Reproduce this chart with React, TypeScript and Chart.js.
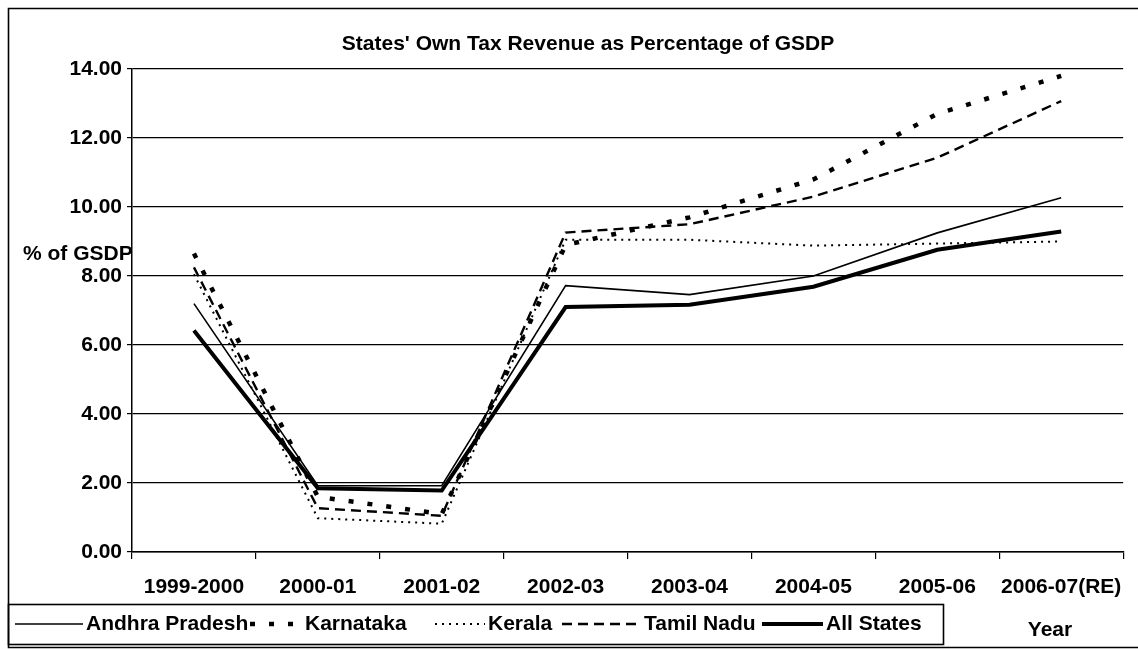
import React, { useEffect, useRef } from 'react';
import { Chart, registerables } from 'chart.js';

Chart.register(...registerables);

// Financial years on the category axis
const years = ['1999-2000', '2000-01', '2001-02', '2002-03', '2003-04', '2004-05', '2005-06', '2006-07(RE)'];

// Own tax revenue as % of GSDP
const andhraPradesh = [7.2, 1.92, 1.92, 7.72, 7.46, 8.0, 9.25, 10.27];
const karnataka = [8.65, 1.6, 1.1, 8.9, 9.7, 10.8, 12.7, 13.8];
const kerala = [8.05, 0.98, 0.82, 9.05, 9.05, 8.88, 8.94, 9.0];
const tamilNadu = [8.25, 1.27, 1.05, 9.26, 9.5, 10.3, 11.43, 13.07];
const allStates = [6.42, 1.85, 1.78, 7.1, 7.17, 7.69, 8.76, 9.29];

// Value axis range
const yMin = 0;
const yMax = 14;
const yStep = 2;

const titleText = "States' Own Tax Revenue as Percentage of GSDP";
const yCaption = '% of GSDP';
const xCaption = 'Year';

const FONT_FAMILY = '"Liberation Sans", Arial, Helvetica, sans-serif';
const font = (size: number) => `bold ${size}px ${FONT_FAMILY}`;

// Line styles per series
const seriesDefs = [
  { label: 'Andhra Pradesh', data: andhraPradesh, width: 1.6, dash: [] as number[] },
  { label: 'Karnataka', data: karnataka, width: 4.5, dash: [5, 14] },
  { label: 'Kerala', data: kerala, width: 2, dash: [2, 5] },
  { label: 'Tamil Nadu', data: tamilNadu, width: 2.4, dash: [10, 6] },
  { label: 'All States', data: allStates, width: 4, dash: [] as number[] },
];

// Legend layout: where each sample line starts and where its text starts
const legendSampleX = [15, 250, 435, 562, 762];
const legendTextX = [86, 305, 488, 644, 826];

const decorations = {
  id: 'decorations',
  beforeDraw(chart: any) {
    const { ctx, width, height } = chart;
    ctx.save();
    ctx.fillStyle = '#ffffff';
    ctx.fillRect(0, 0, width, height);
    ctx.restore();
  },
  afterDraw(chart: any) {
    const { ctx, width, height } = chart;
    ctx.save();
    ctx.strokeStyle = '#000';
    ctx.fillStyle = '#000';

    // outer frame (left, top, bottom edges)
    ctx.lineWidth = 1.6;
    ctx.beginPath();
    ctx.moveTo(width, 8.5);
    ctx.lineTo(8.5, 8.5);
    ctx.lineTo(8.5, height - 1.5);
    ctx.lineTo(width, height - 1.5);
    ctx.stroke();

    // title
    ctx.font = font(21);
    ctx.textAlign = 'center';
    ctx.textBaseline = 'alphabetic';
    ctx.fillText(titleText, 588, 50);

    // value axis caption
    ctx.textAlign = 'left';
    ctx.fillText(yCaption, 23, 260);

    // category axis caption
    ctx.textAlign = 'center';
    ctx.textBaseline = 'middle';
    ctx.fillText(xCaption, 1050, 630);

    // legend box
    ctx.lineWidth = 1.6;
    ctx.strokeRect(8.5, 604.5, 935, 40);

    const ly = 624;
    chart.data.datasets.forEach((ds: any, i: number) => {
      const x0 = legendSampleX[i];
      const x1 = legendTextX[i] - 3;
      ctx.save();
      ctx.lineWidth = ds.borderWidth;
      ctx.setLineDash(ds.borderDash || []);
      ctx.lineCap = 'butt';
      ctx.beginPath();
      ctx.moveTo(x0, ly);
      ctx.lineTo(x1, ly);
      ctx.stroke();
      ctx.restore();
      ctx.font = font(21);
      ctx.textAlign = 'left';
      ctx.textBaseline = 'middle';
      ctx.fillText(ds.label, legendTextX[i], ly);
    });

    ctx.restore();
  },
};

export default function App() {
  const canvasRef = useRef<HTMLCanvasElement | null>(null);

  useEffect(() => {
    if (!canvasRef.current) return;
    const chart = new Chart(canvasRef.current, {
      type: 'line',
      data: {
        labels: years,
        datasets: seriesDefs.map((s) => ({
          label: s.label,
          data: s.data,
          borderColor: '#000',
          backgroundColor: '#000',
          borderWidth: s.width,
          borderDash: s.dash,
          borderCapStyle: 'butt',
          borderJoinStyle: 'miter',
          pointRadius: 0,
          pointHoverRadius: 0,
          tension: 0,
          fill: false,
        })),
      },
      options: {
        responsive: false,
        animation: false,
        events: [],
        layout: { padding: { top: 69, right: 11, bottom: 0, left: 0 } },
        plugins: {
          legend: { display: false },
          title: { display: false },
          tooltip: { enabled: false },
        },
        scales: {
          x: {
            type: 'category',
            offset: true,
            grid: {
              offset: true,
              drawOnChartArea: false,
              drawTicks: true,
              tickLength: 7,
              color: '#000',
              lineWidth: 1.2,
            },
            border: { display: true, color: '#000', width: 1.5 },
            ticks: {
              color: '#000',
              font: { family: FONT_FAMILY, size: 21, weight: 'bold' },
              padding: 16,
              maxRotation: 0,
              minRotation: 0,
              autoSkip: false,
            },
            afterFit(scale: any) {
              scale.height = 97;
            },
          },
          y: {
            min: yMin,
            max: yMax,
            grid: {
              color: '#000',
              lineWidth: 1.2,
              drawTicks: true,
              tickLength: 5,
            },
            border: { display: true, color: '#000', width: 1.5 },
            ticks: {
              stepSize: yStep,
              color: '#000',
              font: { family: FONT_FAMILY, size: 21, weight: 'bold' },
              padding: 5,
              callback: (v: any) => Number(v).toFixed(2),
            },
            afterFit(scale: any) {
              scale.width = 132;
            },
          },
        },
      },
      plugins: [decorations],
    });
    return () => chart.destroy();
  }, []);

  return (
    <div style={{ position: 'fixed', left: 0, top: 0, width: 1138, height: 649, background: '#fff' }}>
      <canvas ref={canvasRef} width={1138} height={649} style={{ display: 'block' }} />
    </div>
  );
}
